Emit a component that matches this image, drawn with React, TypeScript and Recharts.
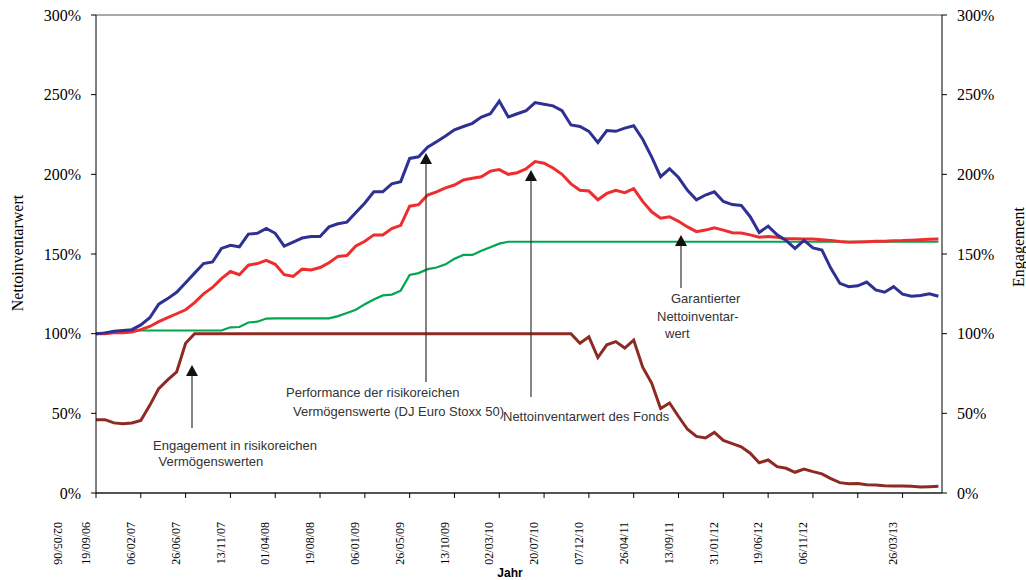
import React from "react";
import { CartesianGrid, Line, LineChart, XAxis, YAxis } from "recharts";

// one point every 28 days, first point = 19/09/06
const stoxx = [
  100, 100.5, 101.5, 102, 102.5, 105.5, 110, 118.5, 122, 126,
  132, 138, 144, 145, 153.5, 155.5, 154.5, 162.5, 163, 166,
  163, 155, 157.5, 160, 161, 161, 167, 169, 170, 176,
  182, 189, 189, 194, 195.4, 210, 211, 217, 220.5, 224,
  228, 230, 232, 236, 238, 246, 236, 238, 240, 245,
  244, 243, 240, 231, 230, 227, 220, 227.5, 227, 229,
  230.5, 222, 211, 198.5, 203.5, 198, 190, 184, 187, 189,
  183, 181, 180.5, 173.4, 163.5, 167.5, 162, 158.5, 153.5, 158.5,
  153.8, 152.5, 141, 131.6, 129.5, 130, 132.4, 127.5, 126, 129.5,
  124.8, 123.5, 124, 125, 123.5,
];

const fondsNav = [
  100, 100, 100.5, 100.5, 101, 102.5, 104.5, 107.5, 110, 112.5,
  115, 119.5, 125, 129, 134.5, 139, 137, 143, 144, 146,
  143.5, 137, 136, 140.5, 140, 141.5, 144.5, 148.5, 149, 155,
  158, 162, 162, 166, 168, 180, 181, 187, 189, 191.5,
  193.3, 196.5, 197.5, 198.5, 202, 203, 200, 201, 203.5, 208,
  207, 204, 200, 194, 190, 189.5, 184, 188, 190, 188.5,
  191, 183, 176.5, 172.5, 173.4, 170.5, 167, 164, 165, 166.5,
  165, 163.4, 163.2, 162, 160.5, 161, 160.5, 159.5, 159.5, 159.4,
  159.4, 159, 158.5, 157.8, 157.4, 157.5, 157.7, 158, 158, 158.3,
  158.4, 158.7, 159, 159.3, 159.4,
];

const garantie = [
  100, 100.5, 101, 101.5, 102, 102, 102, 102, 102, 102,
  102, 102, 102, 102, 102, 104, 104.2, 107, 107.5, 109.5,
  109.6, 109.6, 109.6, 109.6, 109.6, 109.6, 109.6, 111, 113, 115,
  118.5, 121.5, 124, 124.5, 127, 136.8, 138, 140.5, 141.5, 143.5,
  147, 149.4, 149.4, 152, 154.3, 156.5, 157.7, 157.7, 157.7, 157.7,
  157.7, 157.7, 157.7, 157.7, 157.7, 157.7, 157.7, 157.7, 157.7, 157.7,
  157.7, 157.7, 157.7, 157.7, 157.7, 157.7, 157.7, 157.7, 157.7, 157.7,
  157.7, 157.7, 157.7, 157.7, 157.7, 157.7, 157.7, 157.7, 157.7, 157.7,
  157.7, 157.7, 157.7, 157.7, 157.7, 157.7, 157.7, 157.7, 157.7, 157.7,
  157.7, 157.7, 157.7, 157.7, 157.7,
];

const engagement = [
  46, 46, 44, 43.5, 44, 45.5, 55, 65.5, 71, 76,
  94, 100, 100, 100, 100, 100, 100, 100, 100, 100,
  100, 100, 100, 100, 100, 100, 100, 100, 100, 100,
  100, 100, 100, 100, 100, 100, 100, 100, 100, 100,
  100, 100, 100, 100, 100, 100, 100, 100, 100, 100,
  100, 100, 100, 100, 94, 98, 85, 93, 95, 91,
  96, 79, 69, 53, 56.5, 48, 40, 35.5, 34.5, 38,
  33, 31, 29, 25, 19, 20.7, 16.5, 15.5, 13, 15,
  13.4, 12, 9, 6.5, 5.8, 6, 5.2, 5, 4.5, 4.4,
  4.4, 4.2, 3.8, 4, 4.2,
];

// a tick every 5 points (140 days)
const xTickLabels = [
  "19/09/06", "06/02/07", "26/06/07", "13/11/07", "01/04/08", "19/08/08",
  "06/01/09", "26/05/09", "13/10/09", "02/03/10", "20/07/10", "07/12/10",
  "26/04/11", "13/09/11", "31/01/12", "19/06/12", "06/11/12", "", "26/03/13",
];
const firstLabel = "02/05/06";
const yTicks = [0, 50, 100, 150, 200, 250, 300];

const data = stoxx.map((v, i) => ({
  t: i,
  stoxx: v,
  nav: fondsNav[i],
  garantie: garantie[i],
  engagement: engagement[i],
}));

const serif = "'Liberation Serif', 'Times New Roman', serif";
const sans = "'Liberation Sans', Arial, sans-serif";

function XTick(props: any) {
  const { x, index } = props;
  const lx = x - 10;
  const label = xTickLabels[index] ?? "";
  return (
    <g>
      {index === 0 && (
        <text
          x={lx - 28}
          y={522}
          transform={`rotate(90, ${lx - 28}, 522)`}
          textAnchor="start"
          dy="0.35em"
          fontFamily={serif}
          fontSize={12}
          fill="#000"
        >
          {firstLabel}
        </text>
      )}
      <text
        x={lx}
        y={522}
        transform={`rotate(-90, ${lx}, 522)`}
        textAnchor="end"
        dy="0.35em"
        fontFamily={serif}
        fontSize={12}
        fill="#000"
      >
        {label}
      </text>
    </g>
  );
}

function Arrow({ x, top, bottom }: { x: number; top: number; bottom: number }) {
  return (
    <g>
      <line x1={x} y1={top + 10} x2={x} y2={bottom} stroke="#333" strokeWidth={1.2} />
      <polygon points={`${x},${top} ${x - 6},${top + 11} ${x + 6},${top + 11}`} fill="#111" />
    </g>
  );
}

function Notes() {
  const t = { fontFamily: sans, fontSize: 13, fill: "#333" };
  return (
    <svg width={1026} height={580} style={{ position: "absolute", left: 0, top: 0, pointerEvents: "none" }}>
      <Arrow x={192} top={365} bottom={428} />
      <Arrow x={426} top={153} bottom={382} />
      <Arrow x={531} top={170} bottom={397} />
      <Arrow x={681} top={235} bottom={288} />
      <text x={153} y={449.5} {...t}>Engagement in risikoreichen</text>
      <text x={158.5} y={466} {...t}>Vermögenswerten</text>
      <text x={286} y={397} {...t}>Performance der risikoreichen</text>
      <text x={293} y={415.5} {...t}>Vermögenswerte (DJ Euro Stoxx 50)</text>
      <text x={503} y={420.5} {...t}>Nettoinventarwert des Fonds</text>
      <text x={671} y={303} {...t}>Garantierter</text>
      <text x={657} y={320.5} {...t}>Nettoinventar-</text>
      <text x={665} y={338} {...t}>wert</text>
      <text x={17} y={253} transform="rotate(-90, 17, 253)" textAnchor="middle" dy="0.35em" fontFamily={serif} fontSize={16} fill="#000">
        Nettoinventarwert
      </text>
      <text x={1018} y={247} transform="rotate(-90, 1018, 247)" textAnchor="middle" dy="0.35em" fontFamily={serif} fontSize={16} fill="#000">
        Engagement
      </text>
      <text x={510} y={577} textAnchor="middle" fontFamily={sans} fontSize={12} fontWeight="bold" fill="#000">
        Jahr
      </text>
    </svg>
  );
}

export default function App() {
  const yTick = { fill: "#000", fontSize: 16, fontFamily: serif };
  return (
    <div style={{ position: "absolute", left: 0, top: 0, width: 1026, height: 580, background: "#fff" }}>
      <LineChart width={1026} height={580} data={data} margin={{ top: 15, right: 0, bottom: 0, left: 0 }}>
        <CartesianGrid vertical={false} stroke="#555" strokeWidth={1} />
        <XAxis
          dataKey="t"
          type="number"
          domain={[0, 94.4]}
          ticks={xTickLabels.map((_, k) => k * 5)}
          interval={0}
          height={87}
          tickSize={5}
          tick={<XTick />}
          axisLine={{ stroke: "#000" }}
          tickLine={{ stroke: "#000" }}
          allowDataOverflow
        />
        <YAxis
          yAxisId="left"
          domain={[0, 300]}
          ticks={yTicks}
          width={96}
          tickSize={5}
          tickMargin={10}
          tickFormatter={(v) => `${v}%`}
          tick={yTick}
          axisLine={{ stroke: "#000" }}
          tickLine={{ stroke: "#000" }}
        />
        <YAxis
          yAxisId="right"
          orientation="right"
          domain={[0, 300]}
          ticks={yTicks}
          width={84}
          tickSize={5}
          tickMargin={10}
          tickFormatter={(v) => `${v}%`}
          tick={yTick}
          axisLine={{ stroke: "#000" }}
          tickLine={{ stroke: "#000" }}
        />
        <Line yAxisId="left" dataKey="garantie" stroke="#00a650" strokeWidth={2.2} dot={false} activeDot={false} isAnimationActive={false} />
        <Line yAxisId="right" dataKey="engagement" stroke="#8e2a24" strokeWidth={3} dot={false} activeDot={false} isAnimationActive={false} />
        <Line yAxisId="left" dataKey="nav" stroke="#ee2d2f" strokeWidth={3} dot={false} activeDot={false} isAnimationActive={false} />
        <Line yAxisId="left" dataKey="stoxx" stroke="#2e3192" strokeWidth={3} dot={false} activeDot={false} isAnimationActive={false} />
      </LineChart>
      <Notes />
    </div>
  );
}
